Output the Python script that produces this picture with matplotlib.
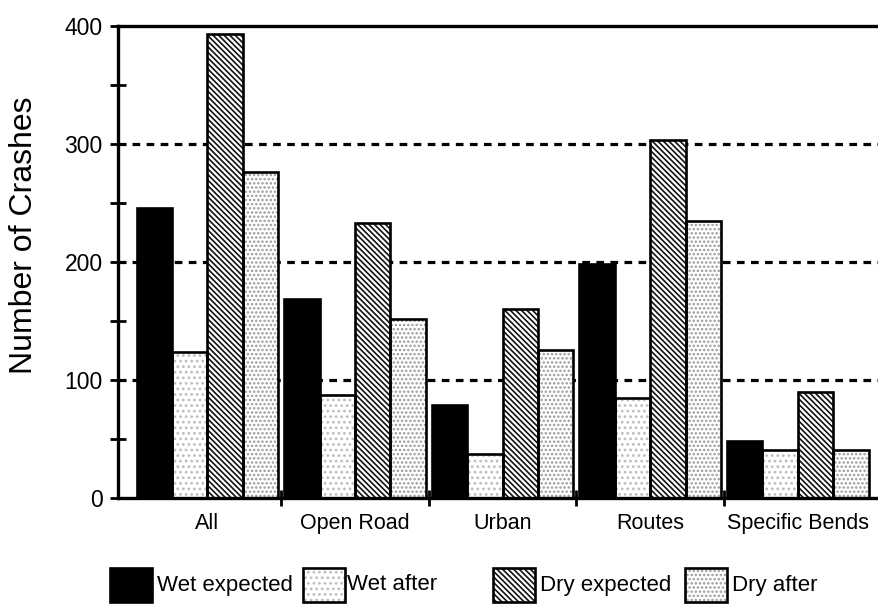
import numpy as np
import matplotlib
matplotlib.use("Agg")
import matplotlib.pyplot as plt
from matplotlib.patches import Rectangle

plt.rcParams['font.family'] = ['Liberation Sans', 'DejaVu Sans']
plt.rcParams['hatch.linewidth'] = 1.2

# data
categories = ['All', 'Open Road', 'Urban', 'Routes', 'Specific Bends']
wet_expected = [246, 169, 79, 198, 48]
wet_after = [124, 87, 37, 85, 41]
dry_expected = [393, 233, 160, 303, 90]
dry_after = [276, 152, 125, 235, 41]
series_names = ['Wet expected', 'Wet after', 'Dry expected', 'Dry after']

# (face colour, hatch, hatch colour) for each series
styles = [
    ('black', None, None),
    ('white', '...', '#bdbdbd'),
    ('white', '\\' * 6, '#111111'),
    ('white', '....', '#9a9a9a'),
]

fig = plt.figure(figsize=(8.79, 6.04), dpi=100)
ax = fig.add_axes([0.1342, 0.1755, 0.8658, 0.7815])

x = np.arange(len(categories))
width = 0.24
offsets = (np.arange(4) - 1.5) * width

for vals, off, (face, hatch, hcol) in zip([wet_expected, wet_after, dry_expected, dry_after], offsets, styles):
    if hatch:
        ax.bar(x + off, vals, width, color=face, hatch=hatch, edgecolor=hcol, linewidth=0, zorder=2)
        ax.bar(x + off, vals, width, fill=False, edgecolor='black', linewidth=1.9, zorder=3)
    else:
        ax.bar(x + off, vals, width, color=face, edgecolor='black', linewidth=1.9, zorder=3)

# dashed grid lines
for yv in [100, 200, 300]:
    ax.axhline(yv, color='black', lw=2.3, ls=(0, (2.4, 2.0)), zorder=1)

ax.set_xlim(-0.606, 4.55)
ax.set_ylim(0, 400)

ax.set_yticks([0, 100, 200, 300, 400])
ax.set_yticks([50, 150, 250, 350], minor=True)
ax.tick_params(axis='y', which='both', direction='inout', length=12, width=2, labelsize=16.5, pad=5)

ax.set_xticks(x)
ax.set_xticklabels(categories, fontsize=15.5)
ax.set_xticks(x[:-1] + 0.5, minor=True)
ax.tick_params(axis='x', which='major', length=0, pad=11)
ax.tick_params(axis='x', which='minor', direction='inout', length=12, width=2)

for side in ['left', 'bottom', 'top']:
    ax.spines[side].set_linewidth(2.4)
ax.spines['right'].set_visible(False)

ax.set_ylabel('Number of Crashes', fontsize=23)
ax.yaxis.set_label_coords(-0.104, 0.557)

# legend drawn by hand to match the uneven spacing
legend_boxes = [(110, 157), (303, 347), (493, 540), (685, 732)]
W, H = 879.0, 604.0
for (bx, tx), name, (face, hatch, hcol) in zip(legend_boxes, series_names, styles):
    x0, y0 = bx / W, 2 / H
    w, h = 42 / W, 34 / H
    if hatch:
        fig.patches.append(Rectangle((x0, y0), w, h, transform=fig.transFigure, facecolor=face,
                                     hatch=hatch, edgecolor=hcol, linewidth=0))
        fig.patches.append(Rectangle((x0, y0), w, h, transform=fig.transFigure, fill=False,
                                     edgecolor='black', linewidth=1.9))
    else:
        fig.patches.append(Rectangle((x0, y0), w, h, transform=fig.transFigure, facecolor=face,
                                     edgecolor='black', linewidth=1.9))
    fig.text(tx / W, 19 / H, name, fontsize=16, va='center', ha='left')

fig.savefig('out.png', dpi=100)
